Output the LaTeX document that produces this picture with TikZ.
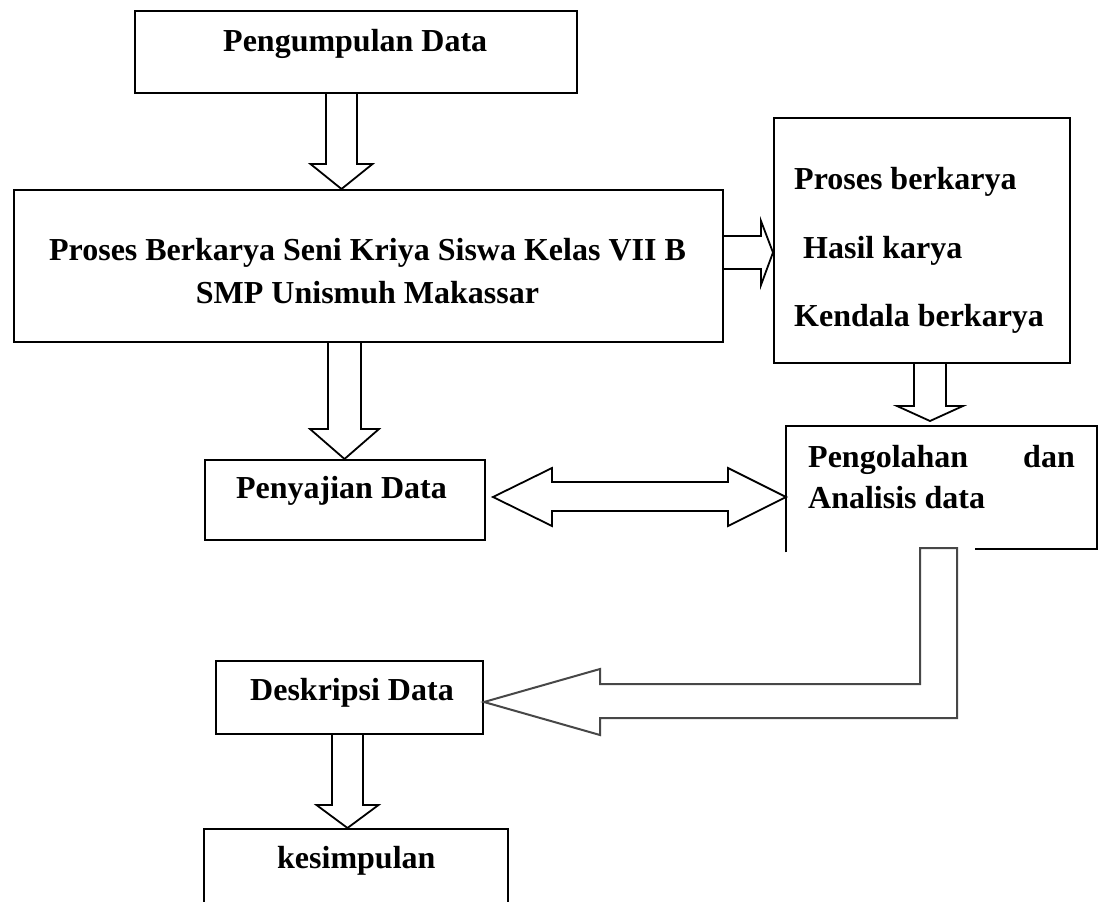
\documentclass[tikz,border=0pt]{standalone}
\usepackage{fontspec}
\setmainfont{Liberation Serif}
\usetikzlibrary{calc}
% down block arrow: #1 centre x, #2 start anchor, #3 end anchor, #4 shaft half width, #5 wing half width, #6 head length
\newcommand{\blockdown}[6]{%
  \draw[barrow] let \p1=(#2), \p2=(#3) in
    (#1pt-#4pt,\y1) -- (#1pt-#4pt,\y2+#6pt) -- (#1pt-#5pt,\y2+#6pt) -- (#1pt,\y2)
    -- (#1pt+#5pt,\y2+#6pt) -- (#1pt+#4pt,\y2+#6pt) -- (#1pt+#4pt,\y1);}
\begin{document}
\begin{tikzpicture}[x=1pt,y=-1pt,
  box/.style={draw, line width=2pt, inner sep=0pt, anchor=north west},
  hbox/.style={inner sep=0pt, anchor=north west},
  txt/.style={font=\bfseries\fontsize{32}{40}\selectfont, inner sep=0pt, anchor=base west},
  barrow/.style={draw, line width=1.8pt, line join=miter},
  garrow/.style={draw=black!72, line width=2pt, line join=miter}]
\useasboundingbox (0,0) rectangle (1104,902);
\clip (0,0) rectangle (1104,902);
% boxes
\node[box, minimum width=442pt, minimum height=82pt] (top) at (134,10) {};
\node[box, minimum width=709pt, minimum height=152pt] (big) at (13,189) {};
\node[box, minimum width=296pt, minimum height=245pt] (right) at (773,117) {};
\node[box, minimum width=280pt, minimum height=80pt] (peny) at (204,459) {};
\node[hbox, minimum width=311pt, minimum height=123pt] (peng) at (786,426) {};
\node[box, minimum width=267pt, minimum height=73pt] (desk) at (215,660) {};
\node[box, minimum width=304pt, minimum height=110pt] (kes) at (203,828) {};
% open outline of the Pengolahan box
\draw[line width=2pt] ($(peng.south west)+(0,3)$) -- (peng.north west) -- (peng.north east)
  -- (peng.south east) -- (975,0 |- peng.south);
% texts
\node[txt] (t1) at (223,51) {Pengumpulan Data};
\node[txt, anchor=base] (t2) at (367.5,260) {Proses Berkarya Seni Kriya Siswa Kelas VII B};
\node[txt, anchor=base] (t3) at (367.5,303) {SMP Unismuh Makassar};
\node[txt] (t4) at (794,189) {Proses berkarya};
\node[txt] (t5) at (803,258) {Hasil karya};
\node[txt] (t6) at (794,326) {Kendala berkarya};
\node[txt, anchor=base east] (t7) at (447,498) {Penyajian Data};
\node[txt] (t8) at (808,467) {Pengolahan};
\node[txt, anchor=base east] (t9) at (1075,467) {dan};
\node[txt] (t10) at (808,508) {Analisis data};
\node[txt] (t11) at (250,700) {Deskripsi Data};
\node[txt] (t12) at (277,868) {kesimpulan};
% connectors
\coordinate (e1) at (341.5,0 |- big.north);
\blockdown{341.5}{top.south}{e1}{15.5}{31}{25}
\coordinate (e2) at (344.5,0 |- peny.north);
\blockdown{344.5}{big.south}{e2}{16.5}{34.5}{30}
\coordinate (e3) at (930,421);
\blockdown{930}{right.south}{e3}{16}{33}{15}
\coordinate (e4) at (347.5,0 |- kes.north);
\blockdown{347.5}{desk.south}{e4}{15.5}{31}{23}
% big -> right box
\draw[barrow] let \p1=(big.east), \p2=(right.west) in
  (\x1,236) -- (\x2-12pt,236) -- (\x2-12pt,221) -- (\x2,252.5) -- (\x2-12pt,285)
  -- (\x2-12pt,269) -- (\x1,269);
% double arrow Penyajian <-> Pengolahan
\coordinate (dl) at ($(peny.east)+(7,0)$);
\draw[barrow] let \p1=(dl), \p2=(peng.west) in
  (\x1,497) -- (\x1+59pt,468) -- (\x1+59pt,482) -- (\x2-58pt,482) -- (\x2-58pt,468)
  -- (\x2,497) -- (\x2-58pt,526) -- (\x2-58pt,511) -- (\x1+59pt,511) -- (\x1+59pt,526) -- cycle;
% L-shaped arrow Pengolahan -> Deskripsi
\draw[garrow] let \p1=(desk.east) in
  (920,548) -- (957,548) -- (957,718) -- (600,718) -- (600,735) -- (\x1,702)
  -- (600,669) -- (600,684) -- (920,684) -- cycle;
\end{tikzpicture}
\end{document}
